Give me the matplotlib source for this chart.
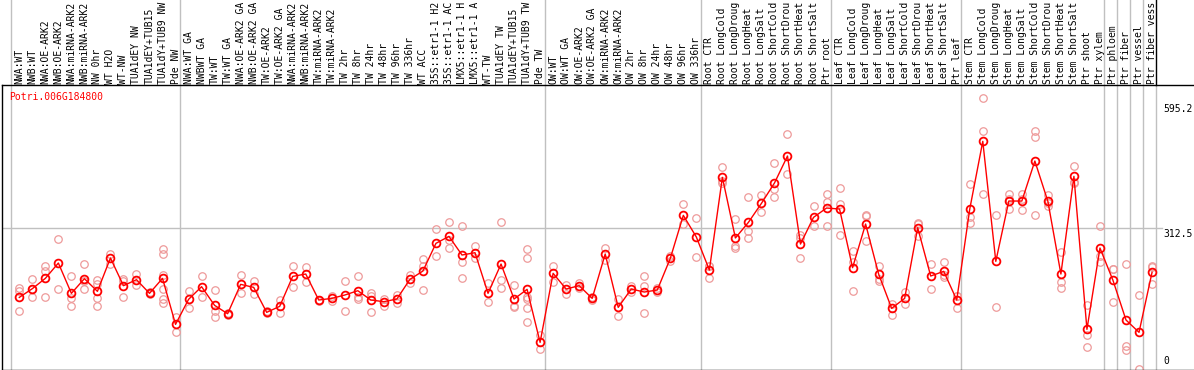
import matplotlib
matplotlib.use("Agg")
import matplotlib.pyplot as plt
from matplotlib import transforms

GENE = "Potri.006G184800"

# sample names as they appear in the (fixed height) header strip
SAMPLES = [
    "NWA:WT", "NWB:WT", "NWA:OE-ARK2", "NWB:OE-ARK2", "NWA:miRNA-ARK2", "NWB:miRNA-ARK2",
    "NW 0hr", "WT H2O", "WT-NW", "TUA1dEY NW", "TUA1dEY+TUB15", "TUA1dY+TUB9 NW", "Pde NW",
    "NWA:WT GA", "NWBWT GA", "TW:WT", "TW:WT GA", "NWA:OE-ARK2 GA", "NWB:OE-ARK2 GA",
    "TW:OE-ARK2", "TW:OE-ARK2 GA", "NWA:miRNA-ARK2", "NWB:miRNA-ARK2", "TW:miRNA-ARK2",
    "TW:miRNA-ARK2", "TW 2hr", "TW 8hr", "TW 24hr", "TW 48hr", "TW 96hr", "TW 336hr", "WT ACC",
    "35S::etr1-1 H2", "35S::etr1-1 AC", "LMX5::etr1-1 H", "LMX5::etr1-1 A", "WT-TW",
    "TUA1dEY TW", "TUA1dEY+TUB15", "TUA1dY+TUB9 TW", "Pde TW",
    "OW:WT", "OW:WT GA", "OW:OE-ARK2", "OW:OE-ARK2 GA", "OW:miRNA-ARK2", "OW:miRNA-ARK2",
    "OW 2hr", "OW 8hr", "OW 24hr", "OW 48hr", "OW 96hr", "OW 336hr",
    "Root CTR", "Root LongCold", "Root LongDroug", "Root LongHeat", "Root LongSalt",
    "Root ShortCold", "Root ShortDrou", "Root ShortHeat", "Root ShortSalt", "Ptr root",
    "Leaf CTR", "Leaf LongCold", "Leaf LongDroug", "Leaf LongHeat", "Leaf LongSalt",
    "Leaf ShortCold", "Leaf ShortDrou", "Leaf ShortHeat", "Leaf ShortSalt", "Ptr leaf",
    "Stem CTR", "Stem LongCold", "Stem LongDroug", "Stem LongHeat", "Stem LongSalt",
    "Stem ShortCold", "Stem ShortDrou", "Stem ShortHeat", "Stem ShortSalt", "Ptr shoot",
    "Ptr xylem", "Ptr phloem", "Ptr fiber", "Ptr vessel", "Ptr fiber vess",
]

MEANS = [
    159.0, 178.2, 200.9, 234.7, 167.9, 200.2, 172.3, 245.8, 184.8, 198.0, 167.9, 200.9, 99.5,
    154.6, 182.6, 141.4, 123.0, 187.7, 181.1, 126.0, 139.2, 205.3, 210.5, 153.2, 156.8, 164.2,
    173.7, 153.2, 149.5, 155.4, 198.7, 217.1, 278.1, 293.5, 252.4, 257.5, 167.9, 232.5, 155.4,
    176.7, 59.8,
    212.0, 177.4, 184.8, 156.8, 254.6, 137.0, 177.4, 170.8, 175.2, 245.0, 339.8, 292.1,
    219.3, 423.6, 289.9, 324.4, 366.3, 411.1, 470.6, 276.6, 335.4, 356.0,
    353.8, 224.5, 320.7, 210.5, 134.8, 156.8, 312.6, 206.1, 216.4, 153.2,
    353.8, 503.0, 238.4, 371.4, 371.4, 459.6, 370.7, 210.5, 425.8, 88.5, 267.8,
    196.5, 109.1, 81.9, 214.2,
]

REPLICATES = [
    [178.9, 173.0, 128.9], [198.7, 178.0, 160.5], [228.1, 217.8, 159.0], [286.9, 178.2],
    [206.1, 156.8, 139.2], [232.5, 195.1, 176.7], [197.3, 188.4, 156.8, 139.2], [254.6, 232.5],
    [200.2, 195.0, 159.0], [210.5, 185.5], [170.8, 165.7],
    [264.9, 254.6, 207.5, 176.7, 154.6, 147.3], [115.0, 83.4],
    [173.0, 136.3], [206.1, 160.5], [174.5, 129.7, 116.4], [125.0, 121.0], [208.3, 167.9],
    [195.1, 167.1], [128.0, 124.0], [153.2, 123.8], [228.1, 181.1], [225.2, 192.1],
    [154.0, 152.0], [162.7, 151.7], [195.1, 128.9], [206.1, 160.4, 154.6],
    [167.9, 162.7, 126.0], [155.4, 140.7], [164.2, 145.8], [208.3, 189.9],
    [242.8, 228.1, 175.2], [309.7, 250.9], [324.4, 285.4, 267.1], [316.3, 237.7, 200.9],
    [272.2, 245.0], [189.9, 148.0], [324.4, 197.3, 178.9], [186.2, 140.7, 138.5],
    [264.9, 245.0, 160.5, 155.0, 134.8, 103.9], [76.0, 44.4],
    [228.1, 192.1], [186.2, 165.7], [189.9, 178.9], [160.5, 153.2], [268.6, 241.4],
    [155.4, 118.6], [183.0, 171.5], [206.1, 184.0, 123.8], [178.9, 170.1], [250.9, 239.2],
    [364.1, 320.0], [334.7, 247.2],
    [228.1, 229.0, 200.9], [445.7, 416.3, 410.4], [331.0, 273.0, 267.1], [380.3, 305.3, 290.6],
    [384.7, 346.4], [455.2, 397.2, 380.3], [519.1, 430.2], [296.5, 290.6, 245.8],
    [360.4, 317.0], [386.9, 369.2, 316.3],
    [400.1, 364.8, 297.2], [261.2, 237.7, 173.0], [340.6, 338.4, 282.5], [228.1, 199.5, 195.1],
    [144.3, 119.4], [171.5, 144.3], [323.7, 320.0, 294.0], [232.5, 176.7],
    [236.9, 207.7, 204.6], [162.0, 161.3, 136.3],
    [408.9, 336.9, 322.2], [597.8, 525.8, 386.1], [340.6, 137.0], [386.1, 375.0, 353.1],
    [386.1, 376.0, 351.6], [526.5, 513.3, 340.6], [384.7, 368.0, 360.4], [259.0, 193.6, 178.9],
    [448.6, 414.0, 410.4], [142.1, 76.0, 50.3], [316.3, 250.0, 236.9],
    [220.8, 220.7, 148.0], [232.5, 52.5, 42.9], [164.2, 1.8], [228.1, 226.0, 188.4],
]

# sample index where a new group starts (vertical separator drawn before it)
GROUP_STARTS = [0, 13, 41, 53, 63, 73, 84, 85, 86, 87, 88]

Y_LABELS = ["595.2", "312.5", "0"]

W, H = 1194, 370
FONT = "DejaVu Sans Mono"
FS = 7.0

fig = plt.figure(figsize=(W / 100, H / 100), dpi=100)
top_px, bot_px, left_px = 85.0, 369.5, 1.5
ax = fig.add_axes([left_px / W, (H - bot_px) / H, 1 - left_px / W, (bot_px - top_px) / H])

x = list(range(len(SAMPLES)))
step = 13.02
x0_px = 19.3
ax.set_xlim((left_px - x0_px) / step, (W - x0_px) / step)
ax.set_ylim(0, (bot_px - top_px) * 2.2046)

# separators run up through the header strip
head = (bot_px - 0) / (bot_px - top_px)
for k in GROUP_STARTS:
    ax.axvline(k - 0.66, ymin=0, ymax=1 if k == 88 else head, color="#c0c0c0",
               lw=1.0, clip_on=False, zorder=1)
ax.axvline(88 - 0.66, ymin=1, ymax=head, color="black", lw=1.0, clip_on=False, zorder=1)
ax.axhline(312.5, xmin=0, xmax=(1162 - left_px) / (W - left_px), color="#c0c0c0", lw=1.0, zorder=1)

rx, ry = [], []
for i, reps in enumerate(REPLICATES):
    for v in reps:
        rx.append(i)
        ry.append(v)
ax.plot(rx, ry, ls="none", marker="o", ms=5.4, mfc="none", mec="#ee9a9a", mew=0.9, zorder=2)
ax.plot(x, MEANS, color="red", lw=1.0, marker="o", ms=5.6, mfc="none", mec="red", mew=1.3, zorder=3)

for s in ["left", "bottom", "top"]:
    ax.spines[s].set_color("black")
    ax.spines[s].set_linewidth(1.0)
ax.spines["right"].set_visible(False)
ax.set_xticks([])
ax.set_yticks([])

trans = transforms.blended_transform_factory(ax.transData, fig.transFigure)
for i, lab in enumerate(SAMPLES):
    fig.text(i, (H - 83.5) / H, lab, transform=trans, rotation=90, ha="center", va="bottom",
             family=FONT, fontsize=FS, color="black")

fig.text(9.3 / W, (H - 97) / H, GENE, color="red", family=FONT, fontsize=FS, va="center", ha="left")

fig.text(1163 / W, (H - 104) / H, Y_LABELS[0], family=FONT, fontsize=FS, va="top", ha="left")
fig.text(1163 / W, (H - 229) / H, Y_LABELS[1], family=FONT, fontsize=FS, va="top", ha="left")
fig.text(1163 / W, (H - 365.5) / H, Y_LABELS[2], family=FONT, fontsize=FS, va="bottom", ha="left")

fig.savefig("out.png", dpi=100)
